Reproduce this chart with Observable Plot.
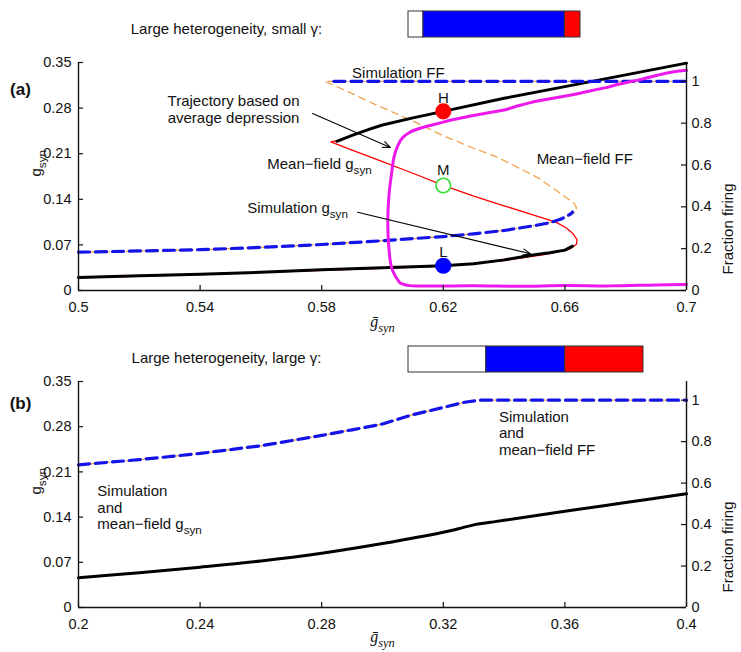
<!DOCTYPE html>
<html><head><meta charset="utf-8">
<script src="https://cdn.jsdelivr.net/npm/d3@7"></script>
<script src="https://cdn.jsdelivr.net/npm/@observablehq/plot@0.6"></script>
<style>
body{margin:0;background:#fff;}
#fig{position:relative;width:741px;height:652px;overflow:hidden;font-family:"Liberation Sans",Arial,Helvetica,sans-serif;}
#fig > div{position:absolute;}
</style></head><body><div id="fig"></div>
<script>
// ---------- shared axis values ----------
const gTicks = [0, 0.07, 0.14, 0.21, 0.28, 0.35];
const fTicks = [0, 0.2, 0.4, 0.6, 0.8, 1];
const GMAX = 0.35, FMAX = 1.09, K = GMAX / FMAX;

// ---------- panel (a) ----------
const xTicksA = [0.5, 0.54, 0.58, 0.62, 0.66, 0.7];
const titleA = "Large heterogeneity, small γ:";
const barA = [{frac: 0.087, color: "white"}, {frac: 0.822, color: "#0000ff"}, {frac: 0.091, color: "#ff0000"}];
// simulation g_syn (black), lower and upper branches
const simGLowA = [[0.5,0.020],[0.52,0.0225],[0.54,0.0248],[0.56,0.028],[0.58,0.032],[0.60,0.035],[0.62,0.038],[0.63,0.041],[0.64,0.047],[0.65,0.055],[0.655,0.058],[0.66,0.062],[0.6625,0.068]];
const simGHighA = [[0.585,0.229],[0.59,0.238],[0.596,0.248],[0.60,0.254],[0.61,0.265],[0.62,0.275],[0.64,0.295],[0.66,0.313],[0.68,0.331],[0.70,0.349]];
// mean-field g_syn (red) S-curve
const mfGA = [[0.70,0.349],[0.68,0.331],[0.66,0.313],[0.64,0.295],[0.62,0.275],[0.60,0.254],[0.59,0.238],[0.585,0.230],[0.583,0.228],[0.59,0.2155],[0.60,0.198],[0.61,0.180],[0.62,0.1615],[0.63,0.145],[0.64,0.130],[0.65,0.1155],[0.657,0.105],[0.6605,0.096],[0.6625,0.088],[0.664,0.078],[0.6638,0.071],[0.6618,0.064],[0.655,0.0565],[0.651,0.0535],[0.64,0.046],[0.62,0.0375],[0.60,0.034],[0.58,0.031],[0.54,0.0245],[0.5,0.0195]];
// trajectory based on average depression (magenta)
const trajA = [[0.700,0.338],[0.695,0.335],[0.690,0.330],[0.684,0.323],[0.678,0.317],[0.673,0.311],[0.667,0.305],[0.662,0.300],[0.656,0.295],[0.651,0.291],[0.645,0.284],[0.640,0.277],[0.635,0.273],[0.629,0.268],[0.623,0.262],[0.618,0.256],[0.613,0.250],[0.609,0.243],[0.6065,0.234],[0.605,0.222],[0.6038,0.205],[0.603,0.18],[0.6022,0.15],[0.6018,0.12],[0.6018,0.09],[0.6022,0.06],[0.603,0.035],[0.6045,0.02],[0.606,0.011],[0.609,0.0075],[0.615,0.0068],[0.63,0.0072],[0.645,0.0065],[0.66,0.0076],[0.675,0.0071],[0.69,0.0086],[0.70,0.0092]];
// fraction firing: simulation (blue dashed) and mean-field (orange dashed)
const simFFLowA = [[0.5,0.183],[0.52,0.189],[0.54,0.195],[0.56,0.206],[0.58,0.220],[0.60,0.238],[0.62,0.258],[0.63,0.271],[0.64,0.287],[0.65,0.310],[0.655,0.324],[0.659,0.343],[0.662,0.367],[0.6625,0.375]];
const simFFHighA = [[0.584,1.0],[0.70,1.0]];
const mfFFA = [[0.5,0.183],[0.52,0.189],[0.54,0.195],[0.56,0.206],[0.58,0.220],[0.60,0.238],[0.62,0.258],[0.63,0.271],[0.64,0.287],[0.65,0.310],[0.655,0.324],[0.659,0.343],[0.662,0.362],[0.6635,0.375],[0.6638,0.395],[0.6632,0.414],[0.6618,0.43],[0.657,0.48],[0.651,0.54],[0.6377,0.638],[0.63,0.68],[0.62,0.74],[0.61,0.81],[0.596,0.90],[0.588,0.955],[0.581,1.0],[0.70,1.0]];
const pointsA = [{x:0.62,g:0.275,label:"H",fill:"#ff0000",stroke:"#ff0000"},{x:0.62,g:0.1612,label:"M",fill:"white",stroke:"#33dd33"},{x:0.62,g:0.038,label:"L",fill:"#0000ff",stroke:"#0000ff"}];
const pointLabelYA = [0.2958, 0.1842, 0.0588];
const arrowsA = [{x1:0.577,y1:0.2717,x2:0.6026,y2:0.2195},{x1:0.5918,y1:0.120,x2:0.6487,y2:0.0563}];
const notesA = [
  {x:0.551, y:0.2786, text:"Trajectory based on\naverage depression", anchor:"middle"},
  {x:0.5621, y:0.1945, text:"Mean−field g_{syn}", anchor:"start"},
  {x:0.5555, y:0.127, text:"Simulation g_{syn}", anchor:"start"},
  {x:0.590, y:0.3348, text:"Simulation FF", anchor:"start"},
  {x:0.6507, y:0.2022, text:"Mean−field FF", anchor:"start"}
];

// ---------- panel (b) ----------
const xTicksB = [0.2, 0.24, 0.28, 0.32, 0.36, 0.4];
const titleB = "Large heterogeneity, large γ:";
const barB = [{frac: 0.331, color: "white"}, {frac: 0.336, color: "#0000ff"}, {frac: 0.333, color: "#ff0000"}];
const ffB = [[0.2,0.688],[0.22,0.713],[0.24,0.743],[0.26,0.78],[0.28,0.83],[0.29,0.857],[0.30,0.885],[0.31,0.93],[0.32,0.965],[0.327,0.99],[0.332,1.0],[0.4,1.0]];
const gB = [[0.2,0.046],[0.22,0.054],[0.24,0.0625],[0.26,0.072],[0.28,0.084],[0.30,0.099],[0.32,0.1165],[0.325,0.122],[0.33,0.128],[0.335,0.1315],[0.34,0.135],[0.36,0.149],[0.38,0.1625],[0.4,0.176]];
const notesB = [
  {x:0.3383, y:0.2704, text:"Simulation\nand\nmean−field FF", anchor:"start"},
  {x:0.2062, y:0.1549, text:"Simulation\nand\nmean−field g_{syn}", anchor:"start"}
];

// ---------- helpers ----------
const FONT = '"Liberation Sans", Arial, Helvetica, sans-serif';
const W = 741, ML = 78, MR = 55;
const pts = a => a.map(([x, y]) => ({x, y}));
const fmtG = d => d === 0 ? "0" : String(d);
const fmtF = d => { const f = Math.round(d / K * 10) / 10; return String(f); };

function addSubscripts(svg) {
  svg.querySelectorAll("text, tspan").forEach(el => {
    if (el.children.length === 0 && el.textContent.includes("_{")) {
      const m = el.textContent.match(/^(.*?)_\{(.*?)\}(.*)$/);
      el.textContent = m[1];
      const t = document.createElementNS("http://www.w3.org/2000/svg", "tspan");
      t.setAttribute("dy", "0.42em");
      t.setAttribute("font-size", "0.78em");
      t.textContent = m[2];
      el.appendChild(t);
    }
  });
}

function panel({height, mt, mb, xDomain, xTicks, marks, title, tag, tagDy, xLabelDy, ffLabelDy}) {
  const innerH = height - mt - mb, innerW = W - ML - MR;
  const svg = Plot.plot({
    width: W, height, marginLeft: ML, marginRight: MR, marginTop: mt, marginBottom: mb,
    style: {fontFamily: FONT, fontSize: "14.5px", color: "#111", background: "transparent", overflow: "visible"},
    x: {domain: xDomain},
    y: {domain: [0, GMAX]},
    marks: [
      ...marks,
      Plot.ruleY([0], {stroke: "#111", strokeWidth: 1.4}),
      Plot.ruleX([xDomain[0], xDomain[1]], {stroke: "#111", strokeWidth: 1.4}),
      Plot.tickX(xTicks, {x: d => d, insetTop: innerH - 5, stroke: "#111", strokeWidth: 1.2}),
      Plot.tickY(gTicks, {y: d => d, insetRight: innerW - 5, stroke: "#111", strokeWidth: 1.2}),
      Plot.tickY(fTicks, {y: d => d * K, insetLeft: innerW - 5, stroke: "#111", strokeWidth: 1.2}),
      Plot.axisX(xTicks, {tickSize: 0, tickPadding: 11, tickFormat: d => String(d), label: null}),
      Plot.axisY(gTicks, {anchor: "left", tickSize: 0, tickPadding: 7, tickFormat: fmtG, label: null}),
      Plot.axisY(fTicks.map(f => f * K), {anchor: "right", tickSize: 0, tickPadding: 5, tickFormat: fmtF, label: null}),
      Plot.text([title], {text: d => d, frameAnchor: "top-left", dx: 148, dy: tagDy[0], textAnchor: "middle", lineAnchor: "middle", fontSize: 15}),
      Plot.text([tag], {text: d => d, frameAnchor: "top-left", dx: -58, dy: tagDy[1], textAnchor: "middle", lineAnchor: "middle", fontSize: 17, fontWeight: "bold"}),
      Plot.text(["g_{syn}"], {text: d => d, frameAnchor: "left", dx: -42, rotate: -90, lineAnchor: "middle", fontSize: 15}),
      Plot.text(["Fraction firing"], {text: d => d, frameAnchor: "right", dx: 42, dy: ffLabelDy, rotate: -90, lineAnchor: "middle", fontSize: 15}),
      Plot.text(["ḡ_{syn}"], {text: d => d, frameAnchor: "bottom", dy: xLabelDy, lineAnchor: "middle", fontSize: 16, fontStyle: "italic", fontFamily: '"Liberation Serif", "DejaVu Serif", serif'})
    ]
  });
  addSubscripts(svg);
  return svg;
}

function colorBar(segments, width) {
  return Plot.plot({
    width, height: 28, margin: 1,
    x: {domain: [0, 1], axis: null}, color: {type: "identity"},
    marks: [Plot.barX(segments, Plot.stackX({x: "frac", fill: "color", stroke: "#333", strokeWidth: 1}))]
  });
}

const orange = "#f2a24e", blue = "#1414e8", magenta = "#ec18ec";

const marksA = [
  Plot.line(pts(mfFFA), {x: "x", y: d => d.y * K, stroke: orange, strokeWidth: 1.3, strokeDasharray: "7,5"}),
  Plot.line(pts(mfGA), {x: "x", y: "y", stroke: "#ff0000", strokeWidth: 1.3}),
  Plot.line(pts(simGLowA), {x: "x", y: "y", stroke: "#000", strokeWidth: 3}),
  Plot.line(pts(simGHighA), {x: "x", y: "y", stroke: "#000", strokeWidth: 3}),
  Plot.line(pts(simFFLowA), {x: "x", y: d => d.y * K, stroke: blue, strokeWidth: 3.2, strokeDasharray: "11,6"}),
  Plot.line(pts(simFFHighA), {x: "x", y: d => d.y * K, stroke: blue, strokeWidth: 3.2, strokeDasharray: "11,6"}),
  Plot.line(pts(trajA), {x: "x", y: "y", stroke: magenta, strokeWidth: 3, curve: "catmull-rom"}),
  Plot.arrow(arrowsA, {x1: "x1", y1: "y1", x2: "x2", y2: "y2", stroke: "#000", strokeWidth: 1.1, headLength: 11, headAngle: 45}),
  Plot.dot(pointsA, {x: "x", y: "g", r: 7.3, fill: "fill", stroke: "stroke", strokeWidth: 1.6}),
  Plot.text(pointsA, {x: "x", y: (d, i) => pointLabelYA[i], text: "label", fontSize: 15}),
  Plot.text(notesA, {x: "x", y: "y", text: "text", textAnchor: "start", fontSize: 15, lineHeight: 1.15, filter: d => d.anchor === "start"}),
  Plot.text(notesA, {x: "x", y: "y", text: "text", textAnchor: "middle", fontSize: 15, lineHeight: 1.15, filter: d => d.anchor === "middle"})
];

const marksB = [
  Plot.line(pts(ffB), {x: "x", y: d => d.y * K, stroke: orange, strokeWidth: 1.3, strokeDasharray: "7,5"}),
  Plot.line(pts(ffB), {x: "x", y: d => d.y * K, stroke: blue, strokeWidth: 3.2, strokeDasharray: "11,6"}),
  Plot.line(pts(gB), {x: "x", y: "y", stroke: "#000", strokeWidth: 3, curve: "catmull-rom"}),
  Plot.text(notesB, {x: "x", y: "y", text: "text", textAnchor: "start", fontSize: 15, lineHeight: 1.1})
];

const fig = document.getElementById("fig");
function place(node, left, top) {
  const d = document.createElement("div");
  d.style.left = left + "px"; d.style.top = top + "px";
  d.appendChild(node); fig.appendChild(d);
}

place(panel({height: 325, mt: 62, mb: 35, xDomain: [0.5, 0.7], xTicks: xTicksA, marks: marksA,
  title: titleA, tag: "(a)", tagDy: [-33, 27], xLabelDy: 31, ffLabelDy: 7}), 0, 0);
place(panel({height: 327, mt: 56, mb: 45, xDomain: [0.2, 0.4], xTicks: xTicksB, marks: marksB,
  title: titleB, tag: "(b)", tagDy: [-23, 22], xLabelDy: 29, ffLabelDy: 7}), 0, 325);
place(colorBar(barA, 174), 407, 10);
place(colorBar(barB, 237), 407, 345);
</script></body></html>
